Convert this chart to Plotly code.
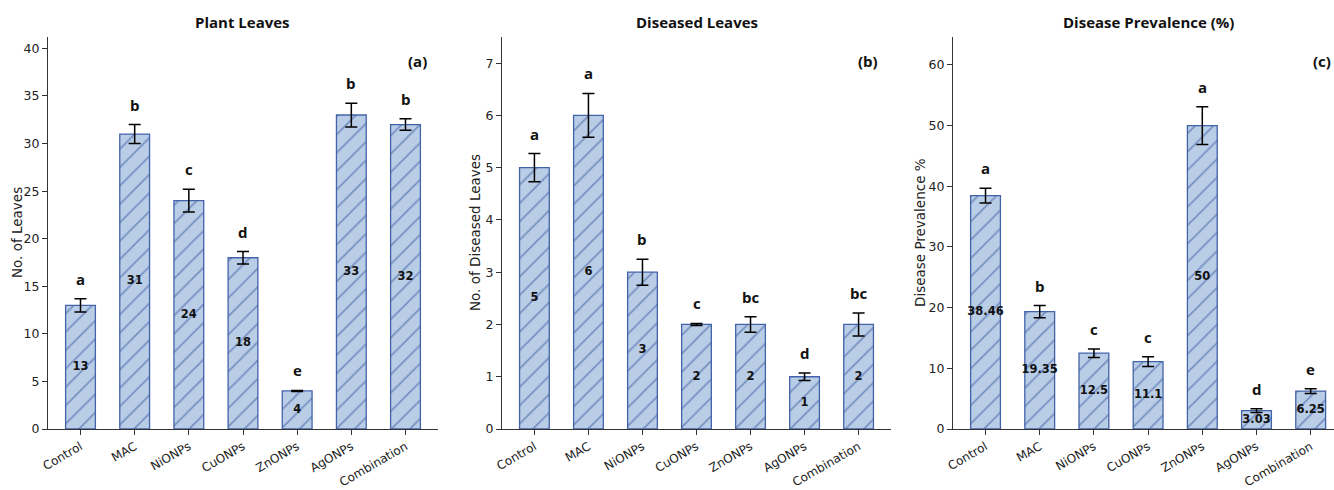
import plotly.graph_objects as go

# Treatments shared by all three panels
treatments = ["Control", "MAC", "NiONPs", "CuONPs", "ZnONPs", "AgONPs", "Combination"]

# (a) Plant leaves
leaves_mean = [13, 31, 24, 18, 4, 33, 32]
leaves_err = [0.7, 1.0, 1.2, 0.65, 0.05, 1.25, 0.6]
leaves_groups = ["a", "b", "c", "d", "e", "b", "b"]

# (b) Diseased leaves
diseased_mean = [5, 6, 3, 2, 2, 1, 2]
diseased_err = [0.27, 0.42, 0.25, 0.02, 0.15, 0.07, 0.22]
diseased_groups = ["a", "a", "b", "c", "bc", "d", "bc"]

# (c) Disease prevalence (%)
prevalence_mean = [38.46, 19.35, 12.5, 11.1, 50, 3.03, 6.25]
prevalence_err = [1.2, 1.0, 0.7, 0.8, 3.1, 0.3, 0.4]
prevalence_groups = ["a", "b", "c", "c", "a", "d", "e"]

W, H = 1334, 490
FILL = "#b9cde6"
EDGE = "#4363a9"
HATCH = "#35569e"
AXIS = "#333333"

panels = [
    dict(title="Plant Leaves", ylabel="No. of Leaves", tag="(a)",
         mean=leaves_mean, err=leaves_err, groups=leaves_groups,
         x0=48, x1=438, xr=[-0.6, 6.6], yr=[0, 41.2], dtick=5,
         ylab_x=17, tag_x=417),
    dict(title="Diseased Leaves", ylabel="No. of Diseased Leaves", tag="(b)",
         mean=diseased_mean, err=diseased_err, groups=diseased_groups,
         x0=502, x1=891, xr=[-0.6, 6.6], yr=[0, 7.5], dtick=1,
         ylab_x=475, tag_x=868),
    dict(title="Disease Prevalence (%)", ylabel="Disease Prevalence %", tag="(c)",
         mean=prevalence_mean, err=prevalence_err, groups=prevalence_groups,
         x0=953, x1=1334, xr=[-0.6, 6.43], yr=[0, 64.6], dtick=10,
         ylab_x=920, tag_x=1322),
]

TOP, BOTTOM = 37, 429
fig = go.Figure()
annotations = []
layout_axes = {}

for i, p in enumerate(panels, start=1):
    xa = "x" if i == 1 else f"x{i}"
    ya = "y" if i == 1 else f"y{i}"
    fig.add_trace(go.Bar(
        x=treatments, y=p["mean"], xaxis=xa, yaxis=ya, width=0.55,
        marker=dict(color=FILL, line=dict(color=EDGE, width=1.3),
                    pattern=dict(shape="/", fgcolor=HATCH, size=13,
                                 solidity=0.14, fillmode="overlay")),
        error_y=dict(type="data", array=p["err"], visible=True,
                     color="black", thickness=1.5, width=6),
        showlegend=False, hoverinfo="skip",
    ))
    # value written at mid-height of each bar
    fig.add_trace(go.Scatter(
        x=treatments, y=[v / 2 for v in p["mean"]], xaxis=xa, yaxis=ya,
        mode="text", text=[f"{v:g}" for v in p["mean"]],
        textposition="middle center",
        textfont=dict(family="DejaVu Sans", size=11.5, color="#111111", weight="bold"),
        showlegend=False, hoverinfo="skip",
    ))
    # significance letters above the error bars
    for t, v, e, g in zip(treatments, p["mean"], p["err"], p["groups"]):
        annotations.append(dict(
            x=t, y=v + e, xref=xa, yref=ya, text=g, showarrow=False,
            yanchor="middle", yshift=20,
            font=dict(family="Open Sans", size=15, color="#111111", weight="bold"),
        ))
    layout_axes["xaxis" if i == 1 else f"xaxis{i}"] = dict(
        domain=[p["x0"] / W, p["x1"] / W], anchor=ya, range=p["xr"], type="category",
        showline=True, linecolor=AXIS, linewidth=1.2, automargin=False,
        ticks="outside", ticklen=5, tickcolor=AXIS, tickangle=-30,
        tickfont=dict(family="DejaVu Sans", size=12, color="#222222"),
        showgrid=False, zeroline=False,
    )
    layout_axes["yaxis" if i == 1 else f"yaxis{i}"] = dict(
        domain=[1 - BOTTOM / H, 1 - TOP / H], anchor=xa, range=p["yr"],
        dtick=p["dtick"], showline=True, linecolor=AXIS, linewidth=1.2,
        automargin=False, ticks="outside", ticklen=5, tickcolor=AXIS,
        tickfont=dict(family="DejaVu Sans", size=12.5, color="#222222"),
        showgrid=False, zeroline=False,
    )
    # panel title, centred over the axis width
    annotations.append(dict(
        x=(p["x0"] + p["x0"] + 390) / 2 / W,
        y=1 - 22 / H, xref="paper", yref="paper", text=p["title"],
        showarrow=False, xanchor="center", yanchor="middle",
        font=dict(family="Open Sans", size=15, color="#111111", weight="bold"),
    ))
    # y axis title
    annotations.append(dict(
        x=p["ylab_x"] / W, y=1 - 233 / H, xref="paper", yref="paper",
        text=p["ylabel"], textangle=-90, showarrow=False,
        xanchor="center", yanchor="middle",
        font=dict(family="DejaVu Sans", size=13.5, color="#222222"),
    ))
    # panel tag
    annotations.append(dict(
        x=p["tag_x"] / W, y=1 - 61 / H, xref="paper", yref="paper",
        text=p["tag"], showarrow=False, xanchor="center", yanchor="middle",
        font=dict(family="Open Sans", size=15, color="#111111", weight="bold"),
    ))

fig.update_layout(
    width=W, height=H, margin=dict(l=0, r=0, t=0, b=0, autoexpand=False),
    paper_bgcolor="white", plot_bgcolor="white",
    annotations=annotations, **layout_axes,
)

fig.write_html("out.html")
